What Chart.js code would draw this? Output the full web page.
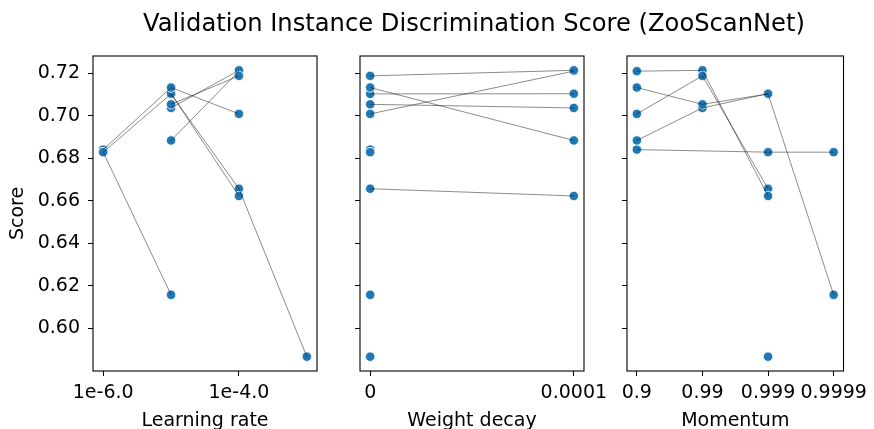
<!DOCTYPE html>
<html>
<head>
<meta charset="utf-8">
<title>Validation Instance Discrimination Score (ZooScanNet)</title>
<script src="https://cdn.jsdelivr.net/npm/chart.js@4/dist/chart.umd.min.js"></script>
<style>
  html, body { margin: 0; padding: 0; background: #ffffff; }
  #wrap { position: relative; width: 874px; height: 429px; overflow: hidden; }
  #wrap canvas { position: absolute; top: 0; }
</style>
</head>
<body>
<div id="wrap">
  <canvas id="lrChart" width="874" height="429" style="left:0;width:874px;height:429px"></canvas>
  <canvas id="wdChart" width="800" height="429" style="left:74px;width:800px;height:429px"></canvas>
  <canvas id="momChart" width="874" height="429" style="left:0;width:874px;height:429px"></canvas>
</div>
<script>
// One entry per training run: hyperparameters and validation score.
const learningRate = [1e-6, 1e-6, 1e-6, 1e-5, 1e-5, 1e-5, 1e-5, 1e-5, 1e-5, 1e-5, 1e-4, 1e-4, 1e-4, 1e-4, 1e-4, 1e-4, 1e-3];
const weightDecay  = [0, 0, 0, 0, 1e-4, 0, 1e-4, 0, 0, 1e-4, 1e-4, 1e-4, 0, 0, 0, 1e-4, 0];
const momentum     = [0.9, 0.999, 0.9999, 0.999, 0.999, 0.9, 0.99, 0.99, 0.9999, 0.9, 0.9, 0.99, 0.99, 0.9, 0.999, 0.999, 0.999];
const score        = [0.6840, 0.6828, 0.6828, 0.7102, 0.7103, 0.7132, 0.7036, 0.7053, 0.6157, 0.6883, 0.7209, 0.7213, 0.7187, 0.7008, 0.6656, 0.6622, 0.5866];

// Axis ticks and their labels
const scoreTicks = [0.60, 0.62, 0.64, 0.66, 0.68, 0.70, 0.72];
const scoreTickLabels = ['0.60', '0.62', '0.64', '0.66', '0.68', '0.70', '0.72'];
const lrTicks = [1e-6, 1e-4];
const lrTickLabels = ['1e-6.0', '1e-4.0'];
const wdTicks = [0, 0.0001];
const wdTickLabels = ['0', '0.0001'];
const momentumTicks = [0.9, 0.99, 0.999, 0.9999];
const momentumTickLabels = ['0.9', '0.99', '0.999', '0.9999'];

const FIGURE_TITLE = 'Validation Instance Discrimination Score (ZooScanNet)';
const FONT = "'DejaVu Sans', 'Liberation Sans', sans-serif";
const TEXT_SIZE = 19;
const DOT = '#1f77b4';

// x transforms: learning rate on log10, momentum on -log10(1 - m)
const lrX = v => Math.log10(v);
const wdX = v => v;
const momX = v => -Math.log10(1 - v);

function paddedRange(values, frac) {
  const lo = Math.min(...values), hi = Math.max(...values);
  const pad = (hi - lo) * frac;
  return { min: lo - pad, max: hi + pad };
}
const yRange = paddedRange(score, 0.05);

// Build scatter points and connecting lines for one hyperparameter:
// runs sharing the other two hyperparameters are joined in order of this one.
function buildDatasets(key, others, tx) {
  const pts = score.map((s, i) => ({ x: tx(key[i]), y: s }));
  const groups = {};
  score.forEach((s, i) => {
    const g = others.map(a => a[i]).join('|');
    (groups[g] = groups[g] || []).push(i);
  });
  const lines = Object.values(groups)
    .filter(idx => idx.length > 1)
    .map(idx => ({
      type: 'line',
      data: idx.slice().sort((a, b) => key[a] - key[b]).map(i => ({ x: tx(key[i]), y: score[i] })),
      borderColor: 'rgba(20,20,20,0.55)',
      borderWidth: 0.9,
      pointRadius: 0,
      fill: false,
      tension: 0,
      order: 1
    }));
  return [
    {
      type: 'scatter',
      data: pts,
      backgroundColor: DOT,
      borderColor: '#ffffff',
      borderWidth: 0.8,
      pointRadius: 4.7,
      order: 2
    },
    ...lines
  ];
}

// Closed box around each plot area
const framePlugin = {
  id: 'frame',
  afterDatasetsDraw(chart) {
    const a = chart.chartArea, ctx = chart.ctx;
    ctx.save();
    ctx.strokeStyle = '#000';
    ctx.lineWidth = 1.1;
    ctx.strokeRect(a.left, a.top, a.right - a.left, a.bottom - a.top);
    ctx.restore();
  }
};

// Figure-wide title centred over the three panels
const figureTitlePlugin = {
  id: 'figureTitle',
  afterDraw(chart, args, opts) {
    if (!opts.text) return;
    const ctx = chart.ctx;
    ctx.save();
    ctx.font = opts.size + 'px ' + FONT;
    ctx.fillStyle = '#000';
    ctx.textAlign = 'center';
    ctx.textBaseline = 'alphabetic';
    ctx.fillText(opts.text, opts.x, opts.y);
    ctx.restore();
  }
};

function fixedTicks(values) {
  return scale => { scale.ticks = values.map(v => ({ value: v })); };
}

function makeChart(id, cfg) {
  const xRange = paddedRange(cfg.xTicksData, 0.05);
  const yScale = {
    type: 'linear',
    min: yRange.min,
    max: yRange.max,
    afterBuildTicks: fixedTicks(scoreTicks),
    afterFit: s => { s.width = cfg.yWidth; },
    grid: { drawOnChartArea: false, drawTicks: true, tickLength: 5, color: '#000', lineWidth: 1 },
    border: { display: false },
    ticks: {
      display: cfg.showY,
      padding: 8,
      color: '#000',
      font: { family: FONT, size: TEXT_SIZE },
      callback: (v) => { const k = scoreTicks.findIndex(t => Math.abs(t - v) < 1e-9); return k >= 0 ? scoreTickLabels[k] : ''; }
    },
    title: {
      display: cfg.showY,
      text: 'Score',
      color: '#000',
      font: { family: FONT, size: TEXT_SIZE },
      padding: { top: 7, bottom: 0 }
    }
  };
  const xScale = {
    type: 'linear',
    min: xRange.min,
    max: xRange.max,
    afterBuildTicks: fixedTicks(cfg.xTicks),
    afterFit: s => { s.height = 58; },
    grid: { drawOnChartArea: false, drawTicks: true, tickLength: 5, color: '#000', lineWidth: 1 },
    border: { display: false },
    ticks: {
      padding: 6,
      maxRotation: 0,
      autoSkip: false,
      color: '#000',
      font: { family: FONT, size: TEXT_SIZE },
      callback: (v) => { const k = cfg.xTicks.findIndex(t => Math.abs(t - v) < 1e-9); return k >= 0 ? cfg.xTickLabels[k] : ''; }
    },
    title: {
      display: true,
      text: cfg.xTitle,
      color: '#000',
      font: { family: FONT, size: TEXT_SIZE },
      padding: { top: 0, bottom: -3 }
    }
  };
  return new Chart(document.getElementById(id), {
    data: { datasets: cfg.datasets },
    options: {
      responsive: false,
      animation: false,
      events: [],
      layout: { padding: cfg.padding },
      scales: { x: xScale, y: yScale },
      plugins: {
        legend: { display: false },
        tooltip: { enabled: false },
        title: { display: false },
        figureTitle: cfg.figureTitle || {}
      }
    },
    plugins: [framePlugin, figureTitlePlugin]
  });
}

makeChart('lrChart', {
  datasets: buildDatasets(learningRate, [weightDecay, momentum], lrX),
  xTicksData: learningRate.map(lrX),
  xTicks: lrTicks.map(lrX),
  xTickLabels: lrTickLabels,
  xTitle: 'Learning rate',
  showY: true,
  yWidth: 93,
  padding: { left: 0, right: 557, top: 56, bottom: 0 }
});

makeChart('wdChart', {
  datasets: buildDatasets(weightDecay, [learningRate, momentum], wdX),
  xTicksData: weightDecay.map(wdX),
  xTicks: wdTicks.map(wdX),
  xTickLabels: wdTickLabels,
  xTitle: 'Weight decay',
  showY: false,
  yWidth: 30,
  figureTitle: { text: FIGURE_TITLE, x: 400, y: 31, size: 24.2 },
  padding: { left: 256, right: 290, top: 56, bottom: 0 }
});

makeChart('momChart', {
  datasets: buildDatasets(momentum, [learningRate, weightDecay], momX),
  xTicksData: momentum.map(momX),
  xTicks: momentumTicks.map(momX),
  xTickLabels: momentumTickLabels,
  xTitle: 'Momentum',
  showY: false,
  yWidth: 27,
  padding: { left: 600, right: 24, top: 56, bottom: 0 }
});
</script>
</body>
</html>
